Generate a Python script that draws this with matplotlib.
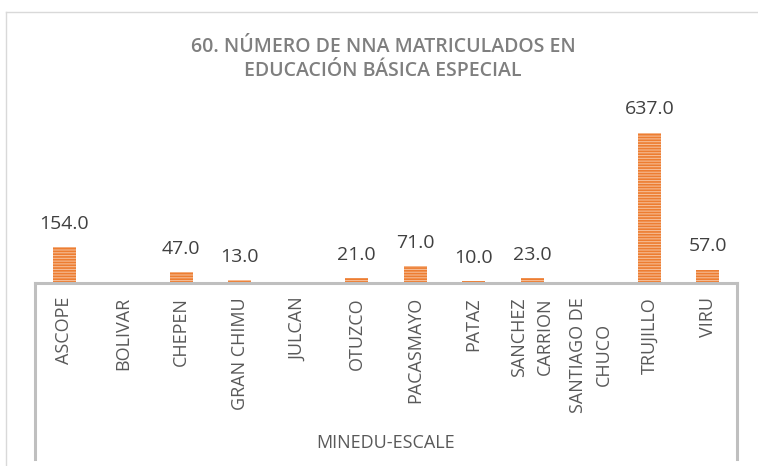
import numpy as np
import matplotlib
matplotlib.use("Agg")
import matplotlib.pyplot as plt
from matplotlib.lines import Line2D

# Enrolment in special basic education by province (source: MINEDU-ESCALE)
provincias = ["ASCOPE", "BOLIVAR", "CHEPEN", "GRAN CHIMU", "JULCAN", "OTUZCO",
              "PACASMAYO", "PATAZ", "SANCHEZ\nCARRION", "SANTIAGO DE\nCHUCO",
              "TRUJILLO", "VIRU"]
matriculados = [154.0, np.nan, 47.0, 13.0, np.nan, 21.0,
                71.0, 10.0, 23.0, np.nan, 637.0, 57.0]
fuente = "MINEDU-ESCALE"
titulo = "60. NÚMERO DE NNA MATRICULADOS EN\nEDUCACIÓN BÁSICA ESPECIAL"

W, H, DPI = 758, 466, 100
plt.rcParams["font.family"] = ["Open Sans", "DejaVu Sans"]
plt.rcParams["hatch.linewidth"] = 1.2

fig = plt.figure(figsize=(W / DPI, H / DPI), dpi=DPI)
fig.patch.set_facecolor("white")

# plot area in pixel terms
left_px, right_px, base_px, top_px = 35, 737, 283, 94
ax = fig.add_axes([left_px / W, 1 - base_px / H,
                   (right_px - left_px) / W, (base_px - top_px) / H])
ax.set_facecolor("none")

x = np.arange(len(provincias))
vals = np.array(matriculados, dtype=float)
ax.bar(x, np.nan_to_num(vals), width=0.39, facecolor="#F6BC94",
       edgecolor="#ED7D31", linewidth=0, hatch="------")

for xi, v in zip(x, vals):
    if np.isnan(v):
        continue
    ax.annotate(f"{v:.1f}", xy=(xi, v), xytext=(0, 13),
                textcoords="offset points", ha="center", va="baseline",
                fontsize=14, color="#404040")

ax.set_xlim(-0.5, len(provincias) - 0.5)
ax.set_ylim(0, 800)
ax.set_yticks([])
for s in ("left", "right", "top"):
    ax.spines[s].set_visible(False)
ax.spines["bottom"].set_color("#BFBFBF")
ax.spines["bottom"].set_linewidth(2.2)

ax.set_xticks(x)
ax.set_xticklabels(provincias, rotation=90, fontsize=13, color="#595959",
                   va="top", ha="center", multialignment="center",
                   linespacing=1.55)
ax.tick_params(axis="x", length=0, pad=10)

# outer category-axis frame lines
depth = (459 - base_px) / (base_px - top_px)
for xa in (0, 1):
    ax.add_line(Line2D([xa, xa], [0, -depth], transform=ax.transAxes,
                       color="#BFBFBF", linewidth=2.2, clip_on=False))

fig.text(0.5 * (left_px + right_px) / W, (H - 443) / H, fuente,
         ha="center", va="center", fontsize=13, color="#595959")

# chart title
fig.text(383 / W, (H - 59) / H, titulo, ha="center", va="center",
         fontsize=14, fontweight="semibold", color="#7F7F7F", linespacing=1.2)

# chart border
fig.add_artist(Line2D([5.5 / W, 5.5 / W], [0, (H - 12) / H],
                      transform=fig.transFigure, color="#D9D9D9", linewidth=1))
fig.add_artist(Line2D([5.5 / W, 1], [(H - 12) / H, (H - 12) / H],
                      transform=fig.transFigure, color="#D9D9D9", linewidth=1))

fig.savefig("out.png", dpi=DPI)
